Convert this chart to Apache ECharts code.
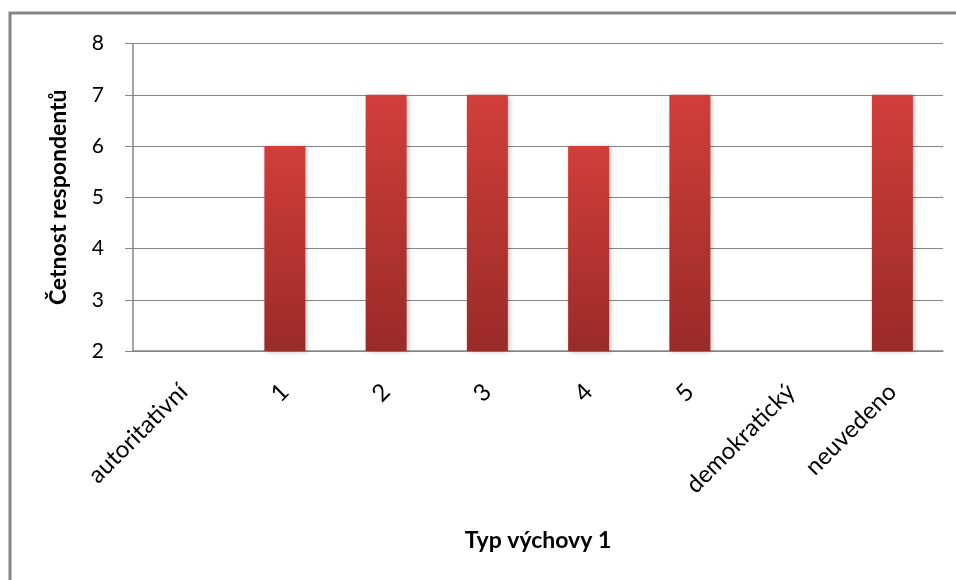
<!DOCTYPE html>
<html>
<head>
<meta charset="utf-8">
<script src="https://cdn.jsdelivr.net/npm/echarts@6/dist/echarts.min.js"></script>
<style>
  html, body { margin: 0; padding: 0; background: #fff; }
  #chart { width: 956px; height: 580px; }
</style>
</head>
<body>
<div id="chart"></div>
<script>
// Typ výchovy 1 – četnost respondentů
const categories = ['autoritativní', '1', '2', '3', '4', '5', 'demokratický', 'neuvedeno'];
const counts = [null, 6, 7, 7, 6, 7, null, 7];
const yMin = 2;
const yMax = 8;
const yStep = 1;

const font = 'Lato, "Open Sans", "DejaVu Sans", sans-serif';
const gridColor = '#868686';

const chart = echarts.init(document.getElementById('chart'), null, { renderer: 'canvas' });

chart.setOption({
  animation: false,
  backgroundColor: '#ffffff',
  graphic: [{
    type: 'rect',
    shape: { x: 10, y: 13, width: 980, height: 600 },
    style: { fill: 'none', stroke: '#868686', lineWidth: 3 },
    silent: true,
    z: -10
  }],
  grid: { left: 133, right: 13, top: 43.5, bottom: 229, containLabel: false },
  xAxis: {
    type: 'category',
    data: categories,
    name: 'Typ výchovy 1',
    nameLocation: 'middle',
    nameGap: 178,
    nameTextStyle: { fontFamily: font, fontSize: 23, fontWeight: 'bold', color: '#000' },
    axisLine: { show: true, lineStyle: { color: gridColor, width: 1.5 } },
    axisTick: { show: false },
    axisLabel: {
      rotate: 45,
      margin: 37,
      interval: 0,
      fontFamily: font,
      fontSize: 24,
      color: '#000'
    },
    splitLine: { show: false }
  },
  yAxis: {
    type: 'value',
    min: yMin,
    max: yMax,
    interval: yStep,
    name: 'Četnost respondentů',
    nameLocation: 'middle',
    nameGap: 63,
    nameRotate: 90,
    nameTextStyle: { fontFamily: font, fontSize: 23, fontWeight: 'bold', color: '#000' },
    axisLine: { show: true, lineStyle: { color: gridColor, width: 1.5 } },
    axisTick: { show: true, length: 8, inside: false, lineStyle: { color: gridColor, width: 1 } },
    axisLabel: { fontFamily: font, fontSize: 21, color: '#000', margin: 29 },
    splitLine: { show: true, lineStyle: { color: gridColor, width: 1 } }
  },
  series: [{
    type: 'bar',
    data: counts,
    barWidth: '40.5%',
    itemStyle: {
      color: new echarts.graphic.LinearGradient(0, 0, 0, 1, [
        { offset: 0, color: '#d13e3a' },
        { offset: 1, color: '#992b29' }
      ]),
      shadowColor: 'rgba(0,0,0,0.25)',
      shadowBlur: 5,
      shadowOffsetX: 2,
      shadowOffsetY: 1
    }
  }]
});
</script>
</body>
</html>
